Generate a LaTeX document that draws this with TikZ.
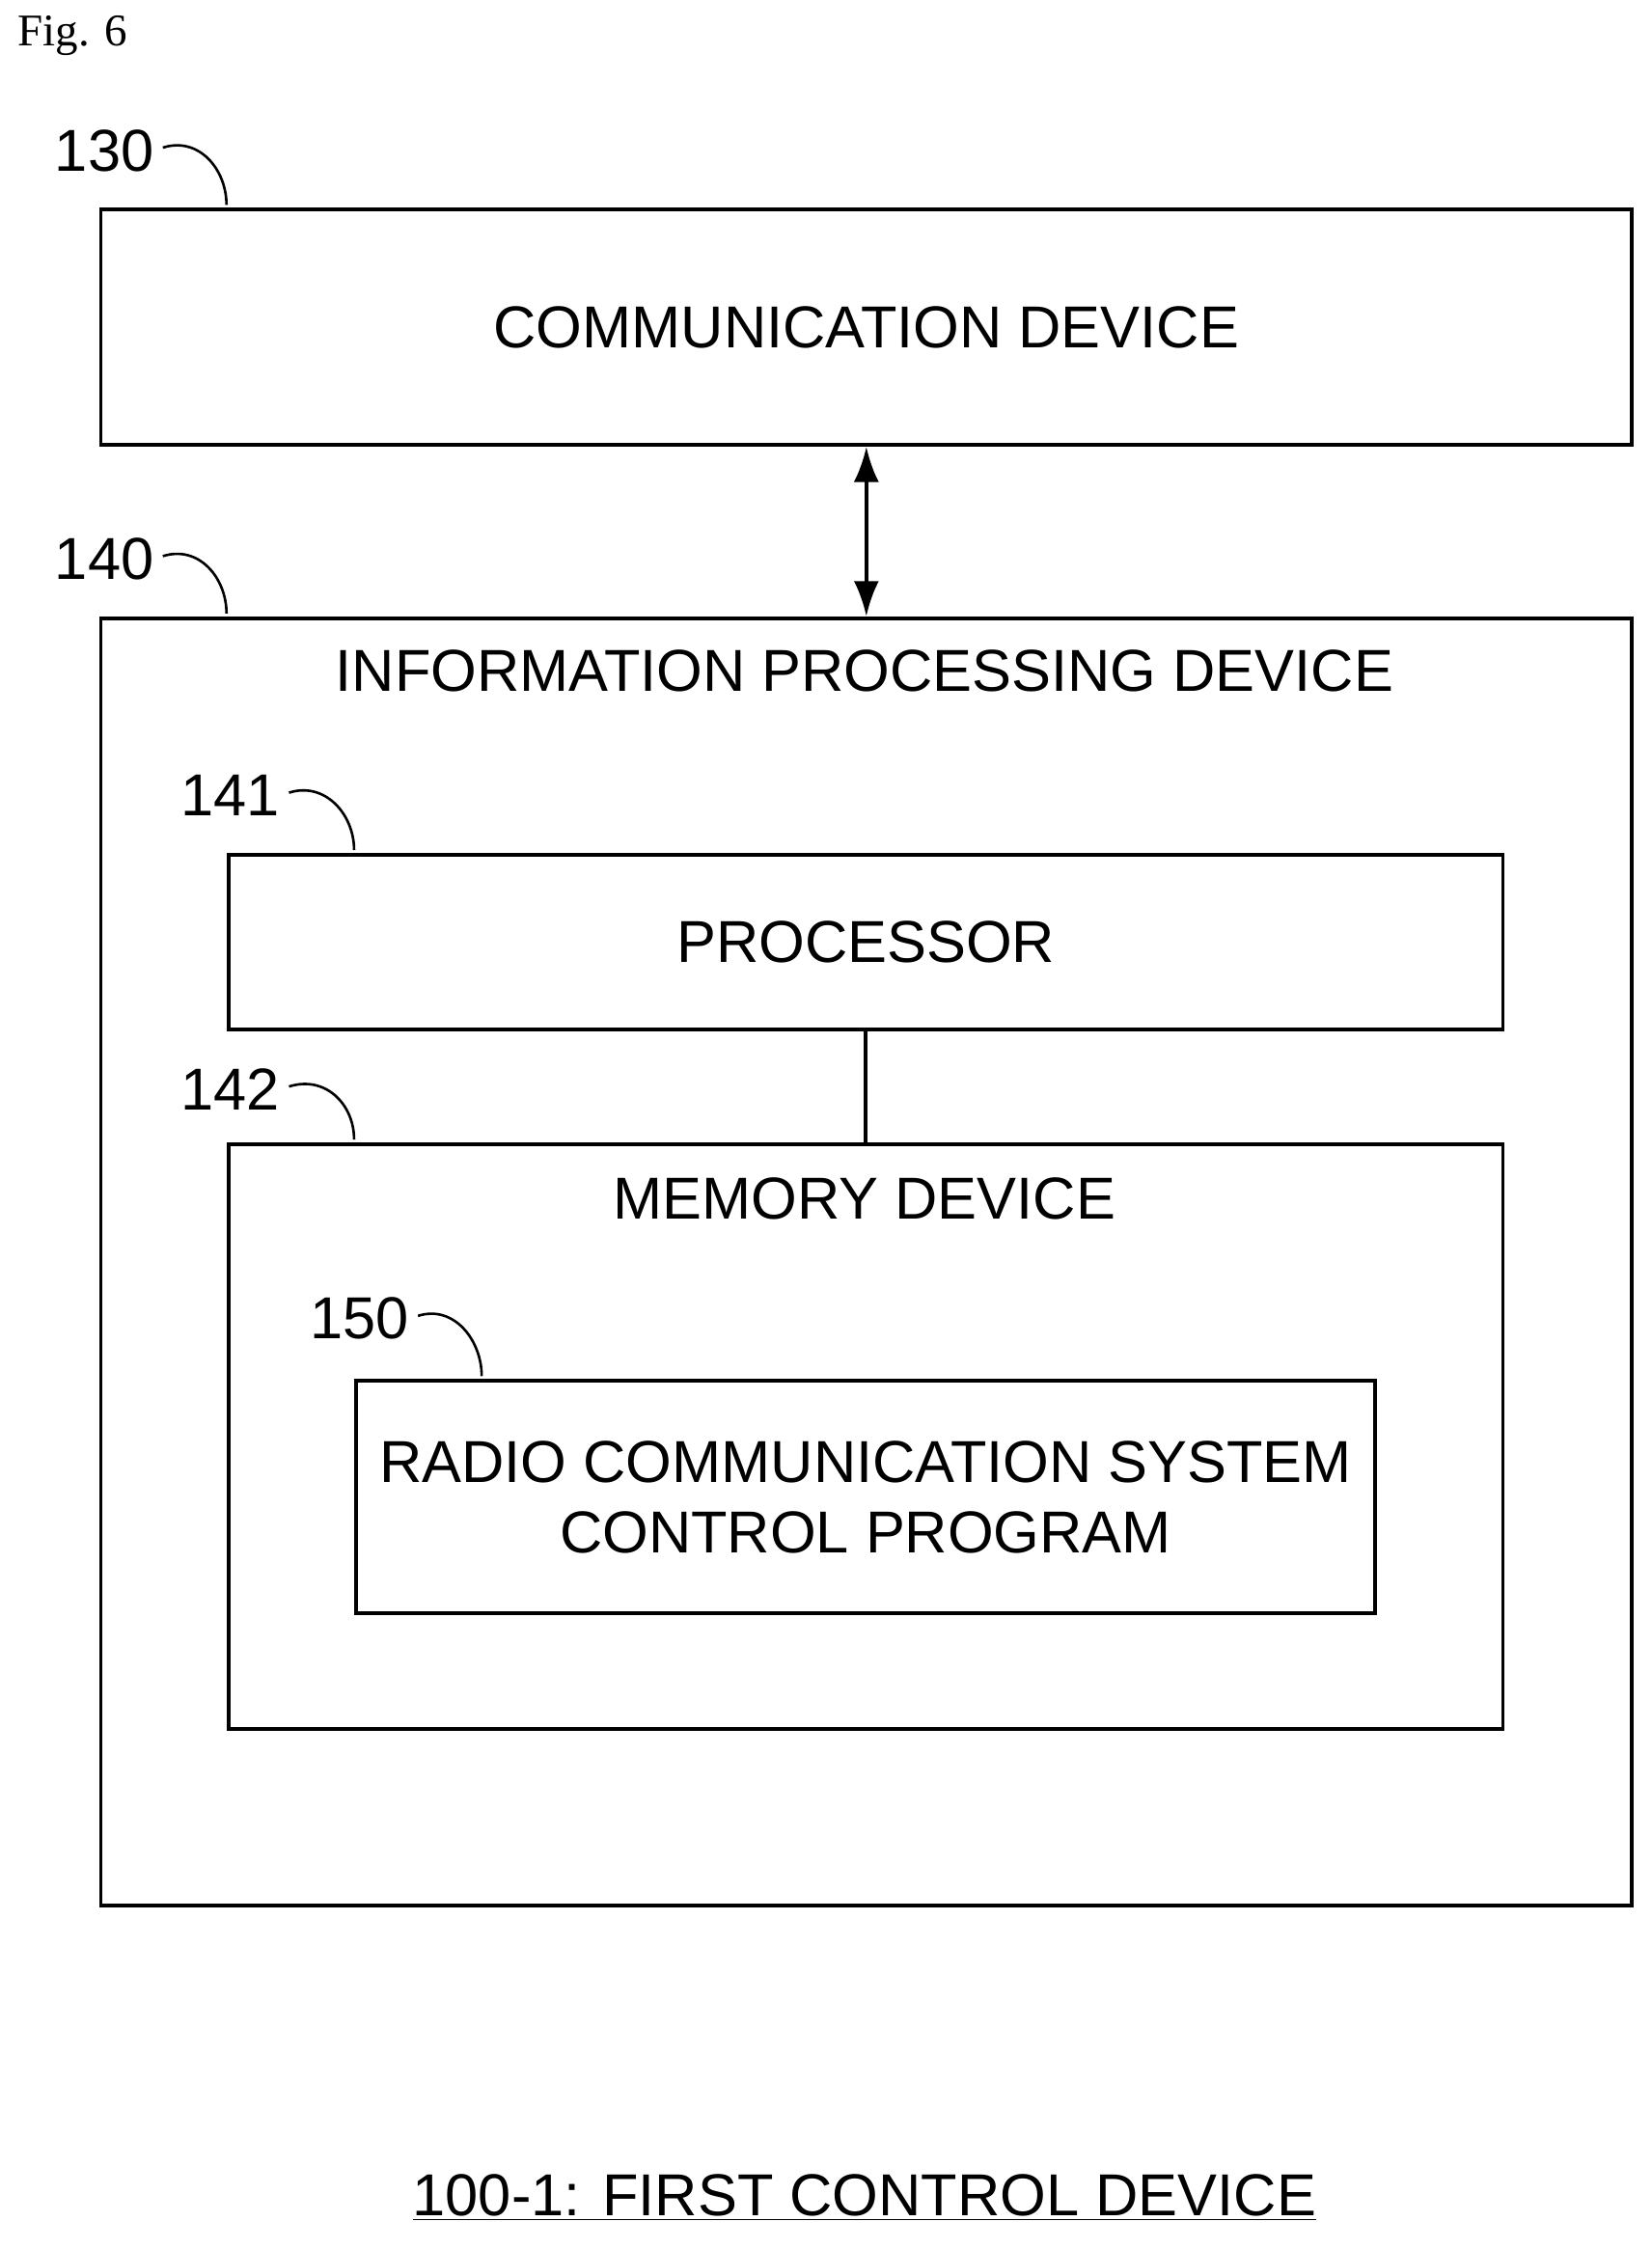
\documentclass[tikz,border=0pt]{standalone}
\usepackage{fontspec}
\setmainfont{Liberation Sans}
\newfontfamily\figfont{Liberation Serif}
\usetikzlibrary{arrows.meta}
\begin{document}
\begin{tikzpicture}[x=0.02cm,y=-0.02cm,
                    box/.style={
            		draw,
			line width=1.5pt,
            		text centered,
			font=\fontsize{23.5}{28}\selectfont,
			align=center,
			anchor=north west,
			inner sep=0pt,
            	},
                    tag/.style={
			font=\fontsize{23.5}{28}\selectfont,
			anchor=west,
			inner sep=0pt,
            	},
                    squig/.style={line width=1pt}
                    ]

\useasboundingbox (0,0) rectangle (1152,1569);

\node[anchor=west, font=\figfont\fontsize{18}{21}\selectfont, inner sep=0pt] (fig) at (12,25) {Fig. 6};

\draw
(69,145) node[box, minimum width=1068*0.02cm, minimum height=164*0.02cm] (comm) {COMMUNICATION DEVICE}
(69,430) node[box, minimum width=1068*0.02cm, minimum height=898*0.02cm] (info) {}
(158,595) node[box, minimum width=889*0.02cm, minimum height=122*0.02cm] (proc) {PROCESSOR}
(158,797) node[box, minimum width=889*0.02cm, minimum height=408*0.02cm] (mem) {}
(247,962) node[box, minimum width=711*0.02cm, minimum height=162*0.02cm] (prog) {RADIO COMMUNICATION SYSTEM\\CONTROL PROGRAM}
;
\node[tag, anchor=center] (info_t) at (603,468) {INFORMATION PROCESSING DEVICE};
\node[tag, anchor=center] (mem_t) at (603,836) {MEMORY DEVICE};

% reference numerals
\node[tag] (n130) at (38,105) {130};
\node[tag] (n140) at (38,390) {140};
\node[tag] (n141) at (126,555) {141};
\node[tag] (n142) at (126,760) {142};
\node[tag] (n150) at (216,920) {150};
\draw[squig] (n130.east) ++(6,-2) .. controls ++(25,-8) and ++(0,-25) .. (158,143);
\draw[squig] (n140.east) ++(6,-2) .. controls ++(25,-8) and ++(0,-25) .. (158,428);
\draw[squig] (n141.east) ++(6,-2) .. controls ++(25,-8) and ++(0,-25) .. (247,593);
\draw[squig] (n142.east) ++(6,-2) .. controls ++(25,-8) and ++(0,-25) .. (247,795);
\draw[squig] (n150.east) ++(6,-2) .. controls ++(25,-8) and ++(0,-25) .. (336,960);

% connectors
\draw[line width=1.5pt, {Latex[length=14pt,width=10pt]}-{Latex[length=14pt,width=10pt]}] (comm.south) -- (info.north);
\draw[line width=1.5pt] (proc.south) -- (mem.north);

\node[tag, anchor=center] (title) at (603,1533) {\underline{100-1: FIRST CONTROL DEVICE}};
\end{tikzpicture}
\end{document}
